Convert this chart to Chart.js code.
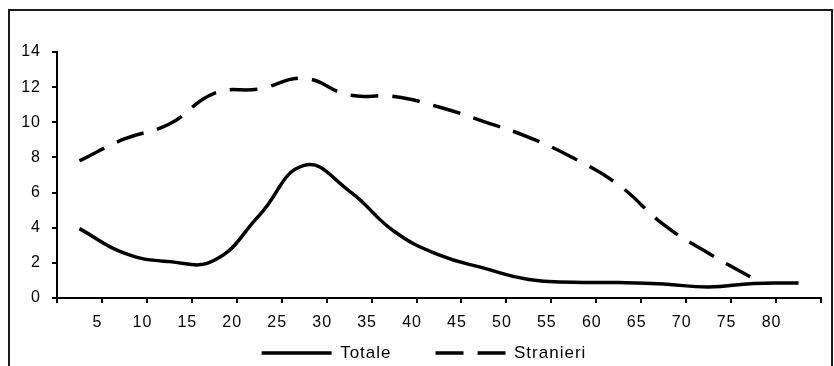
<!DOCTYPE html>
<html>
<head>
<meta charset="utf-8">
<script src="https://cdn.jsdelivr.net/npm/chart.js@4.4.1/dist/chart.umd.min.js"></script>
<style>
    html, body { margin: 0; padding: 0; background: #fff; overflow: hidden; }
    #wrap { position: relative; width: 834px; height: 366px; overflow: hidden; }
    #frame { position: absolute; left: 8px; top: 9px; width: 825px; height: 420px; border: 2px solid #1a1a1a; box-sizing: border-box; pointer-events: none; }
    canvas { position: absolute; left: 0; top: 0; }
</style>
</head>
<body>
<div id="wrap">
    <canvas id="ageChart" width="834" height="405"></canvas>
    <div id="frame"></div>
</div>
<script>
// age classes (mid points of the 5-year groups)
const ages = [2.5, 7.5, 12.5, 17.5, 22.5, 27.5, 32.5, 37.5, 42.5, 47.5, 52.5, 57.5, 62.5, 67.5, 72.5, 77.5, 82.5];
const totale = [3.95, 2.55, 2.07, 2.15, 4.7, 7.55, 6.1, 3.8, 2.45, 1.7, 1.05, 0.9, 0.88, 0.8, 0.62, 0.83, 0.85];
const stranieri = [7.8, 9.05, 9.9, 11.65, 11.9, 12.5, 11.55, 11.47, 10.87, 10.04, 9.14, 7.95, 6.43, 4.17, 2.54, 1.1, null];
const xTickLabels = [5, 10, 15, 20, 25, 30, 35, 40, 45, 50, 55, 60, 65, 70, 75, 80];
const yTickLabels = [0, 2, 4, 6, 8, 10, 12, 14];

const toPoints = (vals) => ages.map((a, i) => ({ x: a, y: vals[i] })).filter(p => p.y !== null);

// the original text is a bit wider than plain Arial
const letterSpacing = {
    id: 'letterSpacing',
    beforeLayout(chart) { chart.ctx.letterSpacing = '1px'; },
    beforeDraw(chart) { chart.ctx.letterSpacing = '1px'; }
};

// legend sits a bit right of centre and close under the axis labels
const legendPlace = {
    id: 'legendPlace',
    afterLayout(chart) {
        chart.legend.left += 27;
        chart.legend.top = 300.5;
    }
};

document.addEventListener('DOMContentLoaded', () => {
    const ctx = document.getElementById('ageChart');
    const font = { family: '"Liberation Sans", Arial, sans-serif', size: 16 };

    new Chart(ctx, {
        type: 'line',
        data: {
            datasets: [{
                label: 'Totale',
                data: toPoints(totale),
                borderColor: '#000',
                borderWidth: 3.5,
                pointRadius: 0,
                fill: false,
                tension: 0.45
            }, {
                label: 'Stranieri',
                data: toPoints(stranieri),
                borderColor: '#000',
                borderWidth: 3.5,
                borderDash: [28, 14],
                pointRadius: 0,
                fill: false,
                tension: 0.45
            }]
        },
        plugins: [letterSpacing, legendPlace],
        options: {
            responsive: false,
            animation: false,
            devicePixelRatio: 1,
            layout: { padding: { left: 0, right: 13, top: 52, bottom: 0 } },
            plugins: {
                tooltip: { enabled: false },
                legend: {
                    position: 'bottom',
                    labels: {
                        usePointStyle: true,
                        pointStyle: 'line',
                        pointStyleWidth: 70,
                        padding: 44,
                        color: '#000',
                        font: { family: font.family, size: 17 },
                        generateLabels: (chart) => Chart.defaults.plugins.legend.labels.generateLabels(chart).map(item => {
                            const ds = chart.data.datasets[item.datasetIndex];
                            return Object.assign(item, {
                                pointStyle: 'line',
                                lineDash: ds.borderDash || [],
                                lineWidth: ds.borderWidth,
                                strokeStyle: ds.borderColor
                            });
                        })
                    }
                }
            },
            scales: {
                x: {
                    type: 'linear',
                    min: 0,
                    max: 85,
                    afterFit: (scale) => { scale.height = 36; },
                    border: { display: true, color: '#000', width: 2 },
                    grid: { drawOnChartArea: false, drawTicks: true, tickLength: 5, color: '#000', lineWidth: 2 },
                    ticks: {
                        stepSize: 5,
                        autoSkip: false,
                        maxRotation: 0,
                        padding: 10,
                        labelOffset: -4.5,
                        color: '#000',
                        font: font,
                        callback: (v) => xTickLabels.includes(v) ? String(v) : ''
                    }
                },
                y: {
                    min: 0,
                    max: 14,
                    afterFit: (scale) => { scale.width = 57; },
                    border: { display: true, color: '#000', width: 2 },
                    grid: { drawOnChartArea: false, drawTicks: true, tickLength: 5, color: '#000', lineWidth: 2 },
                    ticks: {
                        stepSize: 2,
                        padding: 11,
                        color: '#000',
                        font: font,
                        callback: (v) => yTickLabels.includes(v) ? String(v) : ''
                    }
                }
            }
        }
    });
});
</script>
</body>
</html>
